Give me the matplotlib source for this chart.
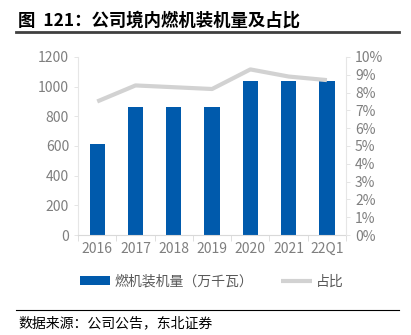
import matplotlib
matplotlib.use("Agg")
import matplotlib.pyplot as plt
import numpy as np
from matplotlib.ticker import FuncFormatter

plt.rcParams['font.family'] = ['Noto Sans CJK SC', 'DejaVu Sans']

categories = ["2016", "2017", "2018", "2019", "2020", "2021", "22Q1"]
capacity = [610, 860, 860, 860, 1040, 1040, 1040]   # 万千瓦
share = [7.5, 8.4, 8.3, 8.2, 9.3, 8.9, 8.7]          # %

bar_color = (0/255, 90/255, 172/255)
line_color = (210/255, 210/255, 210/255)
tick_color = "#7f7f7f"

fig = plt.figure(figsize=(4.11, 3.35), dpi=100)
ax = fig.add_axes([0.19, 0.2985, 0.652, 0.5315])
ax2 = ax.twinx()

x = np.arange(len(categories))
b = ax.bar(x, capacity, 0.4, color=bar_color, zorder=2, label="燃机装机量（万千瓦）")
l, = ax2.plot(x, share, color=line_color, lw=3, solid_capstyle="butt", label="占比")

ax.set_xlim(-0.5, len(categories) - 0.5)
ax.set_ylim(0, 1200)
ax.set_yticks(range(0, 1201, 200))
ax2.set_ylim(0, 10)
ax2.set_yticks(range(0, 11))
ax2.yaxis.set_major_formatter(FuncFormatter(lambda v, p: "%d%%" % v))
ax.set_xticks(x)
ax.set_xticklabels(categories)

for a in (ax, ax2):
    for s in a.spines.values():
        s.set_visible(False)
    a.tick_params(colors=tick_color, labelsize=10, length=3, width=0.6)
    a.tick_params(axis='y', color="#e0e0e0")
ax.spines['left'].set_visible(True)
ax.spines['left'].set_color("#e6e6e6")
ax.spines['bottom'].set_visible(True)
ax.spines['bottom'].set_color("#d9d9d9")
ax2.spines['right'].set_visible(True)
ax2.spines['right'].set_color("#e6e6e6")
ax.set_xticks(np.arange(-0.5, len(categories)), minor=True)
ax.tick_params(axis='x', which='major', length=0, pad=5)
ax.tick_params(axis='x', which='minor', length=4, color="#d9d9d9")

fig.legend([b, l], ["燃机装机量（万千瓦）", "占比"], loc="center",
           bbox_to_anchor=(0.515, 0.16), ncol=2, frameon=False,
           fontsize=10, labelcolor="#595959", handlelength=2.2,
           columnspacing=2.0, handletextpad=0.3)

fig.text(0.045, 0.94, "图  121：公司境内燃机装机量及占比", fontsize=12.5,
         fontweight="bold", color="black", va="center")
fig.add_artist(plt.Line2D([0.04, 0.97], [0.905, 0.905], color="#404040", lw=2))
fig.add_artist(plt.Line2D([0.04, 0.97], [0.075, 0.075], color="black", lw=0.8))
fig.text(0.045, 0.035, "数据来源：公司公告，东北证券", fontsize=10, color="black", va="center")

fig.savefig("out.png", dpi=100)
